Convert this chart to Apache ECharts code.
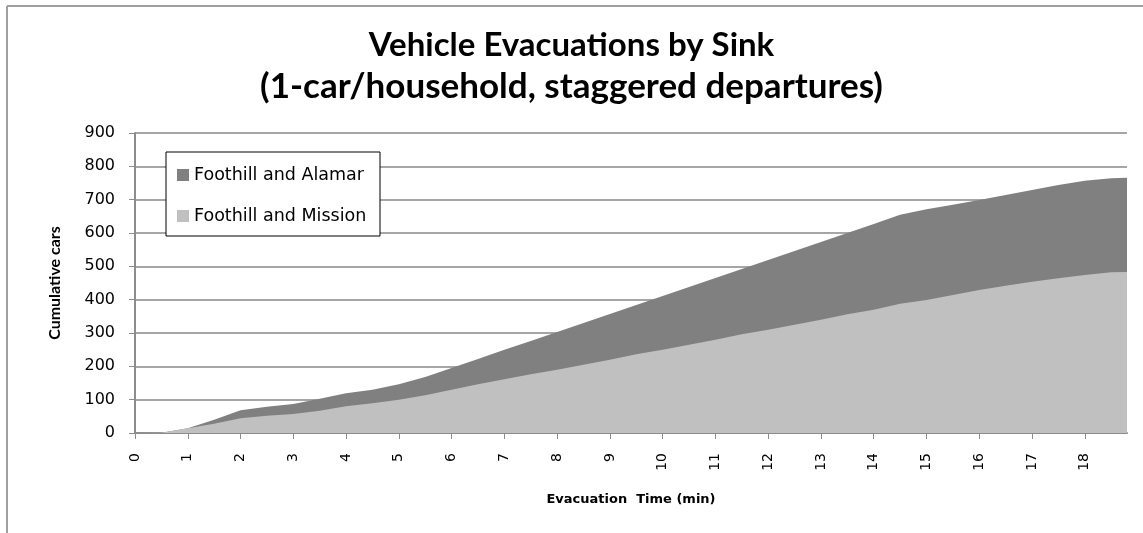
<!DOCTYPE html>
<html>
<head>
<meta charset="utf-8">
<title>Vehicle Evacuations by Sink</title>
<script src="https://cdn.jsdelivr.net/npm/echarts@6/dist/echarts.min.js"></script>
<style>
  html, body { margin: 0; padding: 0; background: #fff; }
  #chart { width: 1143px; height: 533px; }
</style>
</head>
<body>
<div id="chart"></div>
<script>
// evacuation time (min)
const times = [0, 0.5, 1, 1.5, 2, 2.5, 3, 3.5, 4, 4.5, 5, 5.5, 6, 6.5, 7, 7.5, 8, 8.5, 9, 9.5,
  10, 10.5, 11, 11.5, 12, 12.5, 13, 13.5, 14, 14.5, 15, 15.5, 16, 16.5, 17, 17.5, 18, 18.5, 18.8]

// cumulative cars, Foothill and Mission (bottom layer)
const mission = [0, 1, 14, 28, 44, 52, 57, 67, 80, 89, 100, 113, 130, 146, 161, 176, 190, 205, 220, 236,
  250, 265, 280, 296, 310, 325, 340, 356, 370, 388, 399, 414, 429, 442, 454, 464, 474, 482, 483]

// cumulative cars, Foothill and Alamar (stacked on top)
const alamar = [0, 0, 0, 12, 24, 27, 30, 36, 39, 41, 46, 55, 65, 76, 89, 100, 113, 125, 137, 148,
  161, 173, 185, 196, 209, 221, 233, 244, 257, 267, 272, 271, 270, 272, 275, 280, 283, 282, 283]

const timeTicks = [0, 1, 2, 3, 4, 5, 6, 7, 8, 9, 10, 11, 12, 13, 14, 15, 16, 17, 18]

const chart = echarts.init(document.getElementById('chart'), null, { renderer: 'canvas' })

const gridColor = '#a6a6a6'
const axisColor = '#8c8c8c'

// value/value axes don't stack the way excel does, so the top layer is drawn as the running total
const missionPts = times.map((t, i) => [t, mission[i]])
const totalPts = times.map((t, i) => [t, mission[i] + alamar[i]])

const option = {
  animation: false,
  backgroundColor: '#fff',
  title: {
    text: '{a|Vehicle Evacuations by Sink}\n{b|(1-car/household, staggered departures)}',
    left: 'center',
    top: 20,
    textStyle: {
      rich: {
        a: { fontFamily: 'Lato', fontWeight: 'bold', fontSize: 33, lineHeight: 41, color: '#000', align: 'center' },
        b: { fontFamily: 'Lato', fontWeight: 'bold', fontSize: 35, lineHeight: 41, color: '#000', align: 'center' }
      }
    }
  },
  legend: {
    orient: 'vertical',
    left: 166,
    top: 166,
    z: 5,
    padding: [0, 0, 0, 11],
    itemWidth: 12,
    itemHeight: 12,
    itemGap: 23,
    icon: 'rect',
    data: ['Foothill and Alamar', 'Foothill and Mission'],
    textStyle: {
      fontFamily: 'DejaVu Sans',
      fontSize: 17.5,
      lineHeight: 18,
      color: '#000'
    }
  },
  grid: {
    left: 135,
    right: 16,
    top: 133,
    bottom: 100
  },
  xAxis: {
    type: 'value',
    min: 0,
    max: 18.8,
    name: 'Evacuation  Time (min)',
    nameLocation: 'middle',
    nameGap: 60,
    nameTextStyle: {
      fontFamily: 'DejaVu Sans',
      fontWeight: 'bold',
      fontSize: 13,
      color: '#000'
    },
    axisLine: { show: true, lineStyle: { color: axisColor, width: 2 } },
    axisTick: {
      show: true,
      length: 6,
      customValues: timeTicks,
      lineStyle: { color: axisColor, width: 1 }
    },
    axisLabel: {
      customValues: timeTicks,
      rotate: 90,
      margin: 20,
      fontFamily: 'DejaVu Sans',
      fontSize: 14,
      color: '#000'
    },
    splitLine: { show: false }
  },
  yAxis: {
    type: 'value',
    min: 0,
    max: 900,
    interval: 100,
    name: 'Cumulative cars',
    nameLocation: 'middle',
    nameRotate: 90,
    nameGap: 72,
    nameTextStyle: {
      fontFamily: 'Lato',
      fontWeight: 'bold',
      fontSize: 16,
      color: '#000'
    },
    axisLine: { show: true, lineStyle: { color: axisColor, width: 2 } },
    axisTick: { show: true, length: 6, lineStyle: { color: axisColor, width: 1 } },
    axisLabel: {
      margin: 20,
      fontFamily: 'DejaVu Sans',
      fontSize: 16,
      color: '#000'
    },
    splitLine: { show: true, lineStyle: { color: gridColor, width: 2 } }
  },
  graphic: [
    // outer chart frame (only top and left edges are visible)
    { type: 'line', shape: { x1: 7, y1: 6, x2: 1143, y2: 6 }, style: { stroke: '#a0a0a0', lineWidth: 2 } },
    { type: 'line', shape: { x1: 7, y1: 6, x2: 7, y2: 533 }, style: { stroke: '#a0a0a0', lineWidth: 2 } },
    // legend box
    {
      type: 'rect',
      z: 3,
      shape: { x: 166, y: 152, width: 214, height: 84 },
      style: { fill: '#fff', stroke: '#000', lineWidth: 1 }
    }
  ],
  series: [
    {
      name: 'Foothill and Alamar',
      type: 'line',
      data: totalPts,
      showSymbol: false,
      color: '#808080',
      lineStyle: { width: 0 },
      areaStyle: { color: '#808080', opacity: 1 }
    },
    {
      name: 'Foothill and Mission',
      type: 'line',
      data: missionPts,
      showSymbol: false,
      color: '#c0c0c0',
      lineStyle: { width: 0 },
      areaStyle: { color: '#c0c0c0', opacity: 1 }
    }
  ]
}

chart.setOption(option)
</script>
</body>
</html>
